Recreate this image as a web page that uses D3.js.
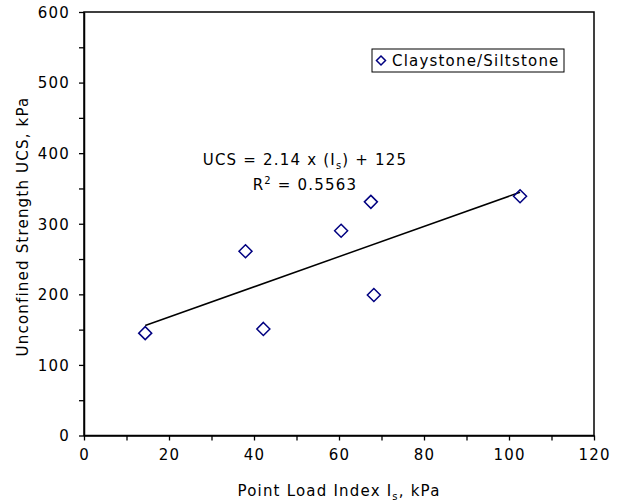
<!DOCTYPE html>
<html>
<head>
<meta charset="utf-8">
<script src="https://cdn.jsdelivr.net/npm/d3@7"></script>
<style>
  body { margin: 0; background: #fff; }
  text { font-family: "DejaVu Sans", Verdana, sans-serif; font-size: 15px; letter-spacing: 1.2px; fill: #000; }
</style>
</head>
<body>
<div id="chart"></div>
<script>
// data
var pointLoad = [14.4, 38.0, 42.2, 60.5, 67.5, 68.2, 102.6],
    ucs = [145, 261, 151, 290, 331, 199, 339],
    xTicks = [0, 20, 40, 60, 80, 100, 120],
    yTicks = [0, 100, 200, 300, 400, 500, 600],
    slope = 2.14, intercept = 125, r2 = "0.5563",
    seriesName = "Claystone/Siltstone";

var margin = {top: 12, right: 31, bottom: 66.5, left: 84},
    width = 625 - margin.left - margin.right,
    height = 502 - margin.top - margin.bottom;

var svg = d3.select("#chart").append("svg")
    .attr("width", 625)
    .attr("height", 502);

var g = svg.append("g")
    .attr("transform", "translate(" + margin.left + "," + margin.top + ")");

var x = d3.scaleLinear().domain([0, 120]).range([0, width]),
    y = d3.scaleLinear().domain([0, 600]).range([height, 0]);

// minor ticks
g.append("g")
    .attr("transform", "translate(0," + height + ")")
    .call(d3.axisBottom(x).tickValues(d3.range(10, 120, 20)).tickSize(5).tickFormat("").tickSizeOuter(0))
    .call(a => a.select(".domain").remove())
    .selectAll("line").attr("stroke-width", 1.3);

g.append("g")
    .call(d3.axisLeft(y).tickValues(d3.range(50, 600, 100)).tickSize(5).tickFormat("").tickSizeOuter(0))
    .call(a => a.select(".domain").remove())
    .selectAll("line").attr("stroke-width", 1.3);

// major axes
var xAxis = g.append("g")
    .attr("transform", "translate(0," + height + ")")
    .call(d3.axisBottom(x).tickValues(xTicks).tickSize(5).tickSizeOuter(0).tickPadding(9));

var yAxis = g.append("g")
    .call(d3.axisLeft(y).tickValues(yTicks).tickSize(5).tickSizeOuter(0).tickPadding(9));

[xAxis, yAxis].forEach(function(a) {
  a.select(".domain").attr("stroke-width", 1.5);
  a.selectAll("line").attr("stroke-width", 1.3);
  a.selectAll("text").style("font-size", "15px").attr("fill", "#000");
});
yAxis.selectAll("text").attr("dy", "0.36em");

// plot border (top and right)
g.append("rect")
    .attr("x", 0).attr("y", 0)
    .attr("width", width).attr("height", height)
    .attr("fill", "none")
    .attr("stroke", "#000")
    .attr("stroke-width", 1.5);

// trendline
var xr = d3.extent(pointLoad);
g.append("path")
    .datum(xr.map(v => ({x: v, y: slope * v + intercept})))
    .attr("d", d3.line().x(d => x(d.x)).y(d => y(d.y)))
    .attr("stroke", "#000")
    .attr("stroke-width", 1.5)
    .attr("fill", "none");

// points
var diamond = "M0,-6.5L6.5,0L0,6.5L-6.5,0Z";
g.selectAll(".pt")
    .data(pointLoad.map((v, i) => ({x: v, y: ucs[i]})))
    .enter().append("path")
    .attr("class", "pt")
    .attr("d", diamond)
    .attr("transform", d => "translate(" + x(d.x) + "," + y(d.y) + ")")
    .attr("fill", "none")
    .attr("stroke", "#000080")
    .attr("stroke-width", 1.5);

// equation
var eq = g.append("text")
    .attr("x", 221)
    .attr("y", 153)
    .attr("text-anchor", "middle");
eq.append("tspan").text("UCS = 2.14 x (I");
eq.append("tspan").text("s").attr("dy", 4).style("font-size", "10px");
eq.append("tspan").text(") + 125").attr("dy", -4);

var r = g.append("text")
    .attr("x", 221)
    .attr("y", 178)
    .attr("text-anchor", "middle");
r.append("tspan").text("R");
r.append("tspan").text("2").attr("dy", -6).style("font-size", "10px");
r.append("tspan").text(" = " + r2).attr("dy", 6);

// legend
var leg = g.append("g").attr("transform", "translate(288,37)");
leg.append("rect")
    .attr("width", 192).attr("height", 23)
    .attr("fill", "#fff")
    .attr("stroke", "#000")
    .attr("stroke-width", 1);
leg.append("path")
    .attr("d", "M0,-4.5L4.5,0L0,4.5L-4.5,0Z")
    .attr("transform", "translate(9,11.5)")
    .attr("fill", "none")
    .attr("stroke", "#000080")
    .attr("stroke-width", 1.5);
leg.append("text")
    .attr("x", 20)
    .attr("y", 17)
    .text(seriesName);

// axis titles
var xt = svg.append("text")
    .attr("x", margin.left + width / 2)
    .attr("y", 496)
    .attr("text-anchor", "middle");
xt.append("tspan").text("Point Load Index I");
xt.append("tspan").text("s").attr("dy", 4).style("font-size", "10px");
xt.append("tspan").text(", kPa").attr("dy", -4);

svg.append("text")
    .attr("transform", "translate(28,226.5) rotate(-90)")
    .attr("text-anchor", "middle")
    .text("Unconfined Strength UCS, kPa");
</script>
</body>
</html>
